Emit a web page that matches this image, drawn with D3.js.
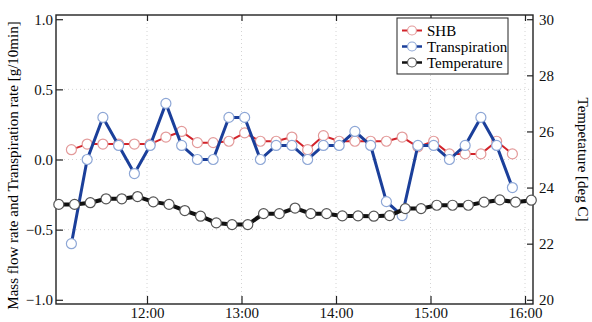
<!DOCTYPE html>
<html>
<head>
<meta charset="utf-8">
<script src="https://cdn.jsdelivr.net/npm/d3@7"></script>
<style>
  body { margin: 0; background: #fff; }
  svg { display: block; }
  .tick line { stroke: #222; stroke-width: 1.2; }
</style>
</head>
<body>
<svg width="592" height="322"></svg>
<script>
// flow measurements (SHB and transpiration), 10 min steps
const flowTimes = ["11:12","11:22","11:32","11:42","11:52","12:02","12:12","12:22","12:32","12:42",
  "12:52","13:02","13:12","13:22","13:32","13:42","13:52","14:02","14:12","14:22",
  "14:32","14:42","14:52","15:02","15:12","15:22","15:32","15:42","15:52"];
const shb = [0.07,0.11,0.11,0.11,0.11,0.11,0.16,0.20,0.12,0.12,
  0.13,0.19,0.13,0.13,0.16,0.07,0.17,0.13,0.13,0.13,
  0.13,0.16,0.09,0.13,0.04,0.04,0.04,0.13,0.04];
const transpiration = [-0.6,0.0,0.3,0.1,-0.1,0.1,0.4,0.1,0.0,0.0,
  0.3,0.3,0.0,0.1,0.1,0.0,0.1,0.1,0.2,0.1,
  -0.3,-0.4,0.1,0.1,0.0,0.1,0.3,0.1,-0.2];

// air temperature
const tempTimes = ["11:04","11:14","11:24","11:34","11:44","11:54","12:04","12:14","12:24","12:34",
  "12:44","12:54","13:04","13:14","13:24","13:34","13:44","13:54","14:04","14:14",
  "14:24","14:34","14:44","14:54","15:04","15:14","15:24","15:34","15:44","15:54","16:04"];
const temperature = [23.40,23.40,23.46,23.60,23.60,23.68,23.49,23.40,23.18,22.98,
  22.74,22.68,22.68,23.07,23.07,23.27,23.07,23.07,22.99,22.99,
  22.98,23.00,23.25,23.25,23.37,23.37,23.37,23.48,23.56,23.48,23.55];

const hourTicks = ["12:00","13:00","14:00","15:00","16:00"];
const flowTicks = [-1.0,-0.5,0.0,0.5,1.0];
const tempTicks = [20,22,24,26,28,30];

const serif = "'Liberation Serif', 'Times New Roman', Times, serif";
const parseTime = d3.timeParse("%H:%M");
const plotLeft = 56, plotRight = 533, plotTop = 15, plotBottom = 304;

const svg = d3.select("svg")
  .attr("font-family", serif);

const x = d3.scaleTime()
  .domain([parseTime("11:00"), parseTime("16:00")])
  .range([147 - 94.5, 147 + 4 * 94.5]);

const y = d3.scaleLinear().domain([-1.03, 1.03]).range([plotBottom, plotTop]);
const yT = d3.scaleLinear().domain([19.85, 30.15]).range([plotBottom, plotTop]);

//grid
const grid = svg.append("g");
grid.selectAll(".vg")
  .data(hourTicks)
  .enter().append("line")
    .attr("x1", d => x(parseTime(d))).attr("x2", d => x(parseTime(d)))
    .attr("y1", plotTop).attr("y2", plotBottom)
    .attr("stroke", "#d4d4d4").attr("stroke-dasharray", "1,3");
grid.selectAll(".hg")
  .data(flowTicks.slice(1, -1))
  .enter().append("line")
    .attr("x1", plotLeft).attr("x2", plotRight)
    .attr("y1", d => y(d)).attr("y2", d => y(d))
    .attr("stroke", "#d4d4d4").attr("stroke-dasharray", "1,3");

//axes (style after the call, d3 sets sans-serif on the group)
function styleAxis(g) {
  g.attr("font-family", serif).attr("font-size", 15);
  g.select(".domain").remove();
  g.selectAll(".tick text").attr("fill", "#111");
}

const fmtHour = d3.timeFormat("%H:%M");
svg.append("g")
  .attr("transform", `translate(${plotLeft},0)`)
  .call(d3.axisLeft(y).tickValues(flowTicks).tickSize(-7).tickPadding(3).tickFormat(d3.format(".1f")))
  .call(styleAxis);

svg.append("g")
  .attr("transform", `translate(${plotRight},0)`)
  .call(d3.axisRight(yT).tickValues(tempTicks).tickSize(-6).tickPadding(6))
  .call(styleAxis);

svg.append("g")
  .attr("transform", `translate(0,${plotBottom})`)
  .call(d3.axisBottom(x).tickValues(hourTicks.map(parseTime)).tickSize(-8).tickPadding(3).tickFormat(fmtHour))
  .call(styleAxis);

svg.append("g")
  .attr("transform", `translate(0,${plotTop})`)
  .call(d3.axisTop(x).tickValues(hourTicks.map(parseTime)).tickSize(-6).tickFormat(""))
  .call(styleAxis);

svg.append("rect")
  .attr("x", plotLeft).attr("y", plotTop)
  .attr("width", plotRight - plotLeft).attr("height", plotBottom - plotTop)
  .attr("fill", "none").attr("stroke", "#222").attr("stroke-width", 1.4);

//axis titles
svg.append("text")
  .attr("transform", `translate(18,${(plotTop + plotBottom) / 2 + 6}) rotate(-90)`)
  .attr("text-anchor", "middle")
  .attr("font-size", 15)
  .text("Mass flow rate and Transpiration rate [g/10min]");

svg.append("text")
  .attr("transform", `translate(578,${(plotTop + plotBottom) / 2}) rotate(90)`)
  .attr("text-anchor", "middle")
  .attr("font-size", 15)
  .text("Tempetature [deg C]");

//series
const series = [
  { name: "SHB", times: flowTimes, values: shb, scale: y, line: "#d2232a", mark: "#e39a9a", width: 2 },
  { name: "Transpiration", times: flowTimes, values: transpiration, scale: y, line: "#1b3f9a", mark: "#8ea7d6", width: 3 },
  { name: "Temperature", times: tempTimes, values: temperature, scale: yT, line: "#111", mark: "#555", width: 4 }
];

series.forEach(s => {
  const pts = s.times.map((t, i) => [x(parseTime(t)), s.scale(s.values[i])]);
  svg.append("path")
    .attr("d", d3.line()(pts))
    .attr("fill", "none")
    .attr("stroke", s.line)
    .attr("stroke-width", s.width)
    .attr("stroke-linejoin", "round");
  svg.selectAll(null)
    .data(pts)
    .enter().append("circle")
      .attr("cx", d => d[0]).attr("cy", d => d[1])
      .attr("r", 5)
      .attr("fill", "#fff")
      .attr("stroke", s.mark)
      .attr("stroke-width", 1.2);
});

//legend
const legend = svg.append("g");
legend.append("rect")
  .attr("x", 397).attr("y", 18)
  .attr("width", 111).attr("height", 56)
  .attr("fill", "#fff").attr("stroke", "#222").attr("stroke-width", 1);

series.forEach((s, i) => {
  const cy = 30.5 + i * 16;
  legend.append("line")
    .attr("x1", 402).attr("x2", 422)
    .attr("y1", cy).attr("y2", cy)
    .attr("stroke", s.line).attr("stroke-width", Math.min(s.width, 2.5));
  legend.append("circle")
    .attr("cx", 412).attr("cy", cy).attr("r", 4.5)
    .attr("fill", "#fff").attr("stroke", s.mark).attr("stroke-width", 1.2);
  legend.append("text")
    .attr("x", 427).attr("y", cy + 5)
    .attr("font-size", 15)
    .text(s.name);
});
</script>
</body>
</html>
